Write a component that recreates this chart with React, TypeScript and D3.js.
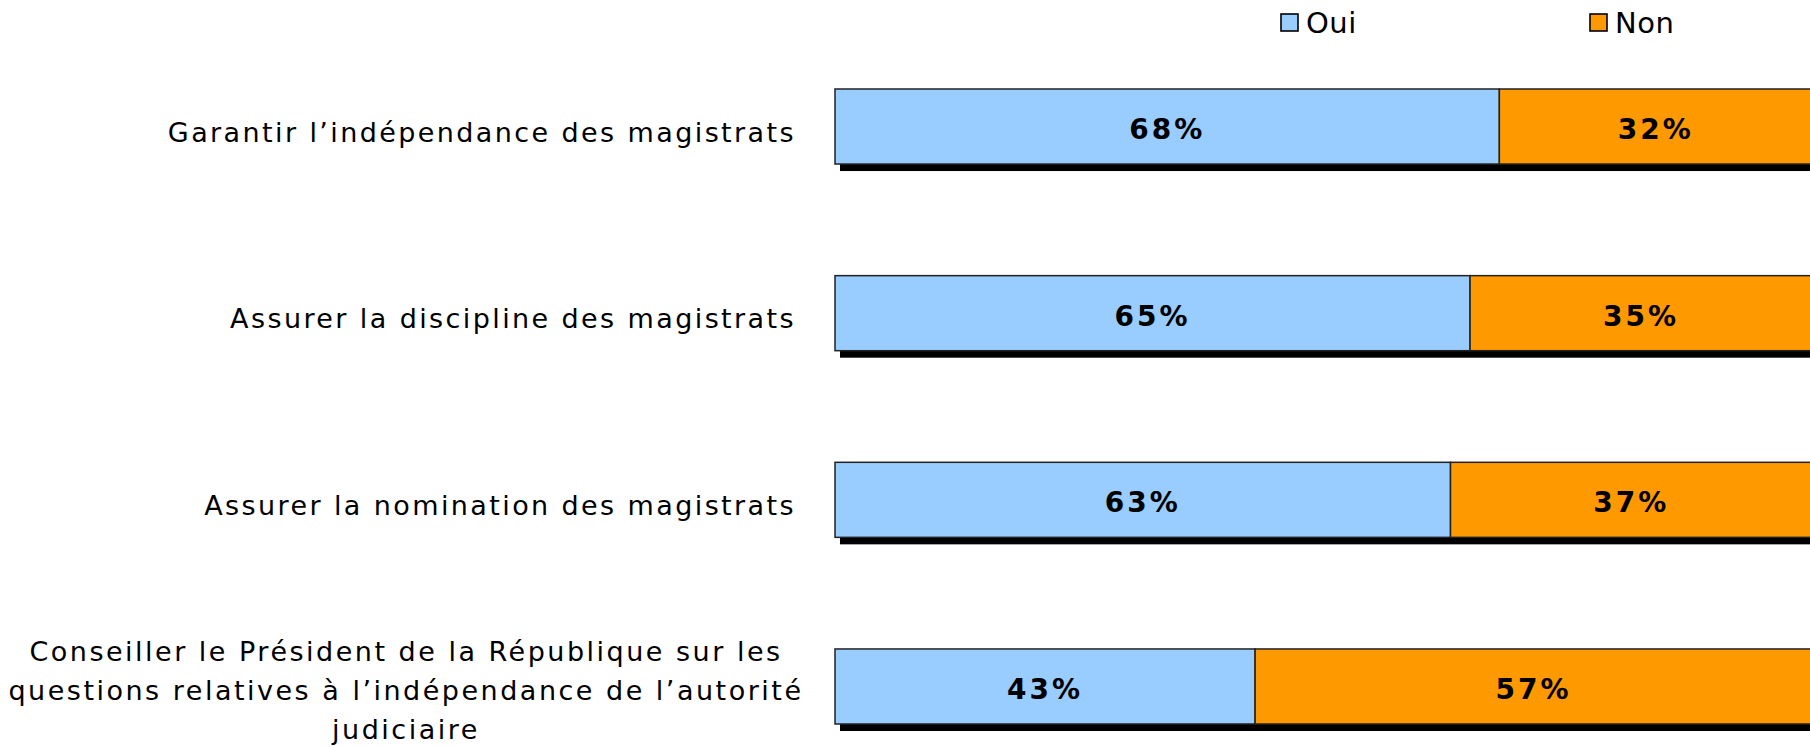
import React from "react";
import * as d3 from "d3";

const categories = [
  ["Garantir l\u2019indépendance des magistrats"],
  ["Assurer la discipline des magistrats"],
  ["Assurer la nomination des magistrats"],
  [
    "Conseiller le Président de la République sur les",
    "questions relatives à l\u2019indépendance de l\u2019autorité",
    "judiciaire",
  ],
];
const oui = [68, 65, 63, 43];
const non = [32, 35, 37, 57];
const seriesNames = ["Oui", "Non"];
const colors = ["#99CCFF", "#FF9900"];

const W = 1810;
const H = 747;

export default function App() {
  const x = d3.scaleLinear().domain([0, 100]).range([835, 1812]);
  const y = d3
    .scaleBand<number>()
    .domain(d3.range(categories.length))
    .range([33, 780])
    .paddingInner(0.598)
    .paddingOuter(0.3);
  const bh = y.bandwidth();
  const font = "'DejaVu Sans', Verdana, sans-serif";

  return (
    <svg
      width={W}
      height={H}
      style={{ position: "absolute", left: 0, top: 0, background: "#fff" }}
      fontFamily={font}
    >
      {seriesNames.map((s, i) => {
        const lx = i === 0 ? 1281 : 1590;
        return (
          <g key={s}>
            <rect x={lx} y={14} width={17} height={17} fill={colors[i]} stroke="#000" strokeWidth={1.6} />
            <text x={lx + 25} y={33} fontSize={29} letterSpacing={0.5} fill="#000">
              {s}
            </text>
          </g>
        );
      })}
      {categories.map((lines, i) => {
        const y0 = y(i)!;
        const cy = y0 + bh / 2;
        const o = oui[i];
        const n = non[i];
        return (
          <g key={i}>
            <rect x={x(0) + 5} y={y0 + 7} width={x(100) - x(0)} height={bh} fill="#000" />
            <rect x={x(0)} y={y0} width={x(o) - x(0)} height={bh} fill={colors[0]} stroke="#222" strokeWidth={1.5} />
            <rect x={x(o)} y={y0} width={x(o + n) - x(o)} height={bh} fill={colors[1]} stroke="#222" strokeWidth={1.5} />
            <text x={(x(0) + x(o)) / 2} y={cy + 12.5} textAnchor="middle" fontSize={28} fontWeight="bold" letterSpacing={3}>
              {o}%
            </text>
            <text x={(x(o) + x(o + n)) / 2} y={cy + 12.5} textAnchor="middle" fontSize={28} fontWeight="bold" letterSpacing={3}>
              {n}%
            </text>
            {lines.length === 1 ? (
              <text x={796} y={cy + 15} textAnchor="end" fontSize={27} letterSpacing={2.4}>
                {lines[0]}
              </text>
            ) : (
              lines.map((l, j) => (
                <text
                  key={j}
                  x={406}
                  y={cy + 14 + (j - 1) * 39}
                  textAnchor="middle"
                  fontSize={27}
                  letterSpacing={2.5}
                >
                  {l}
                </text>
              ))
            )}
          </g>
        );
      })}
    </svg>
  );
}
